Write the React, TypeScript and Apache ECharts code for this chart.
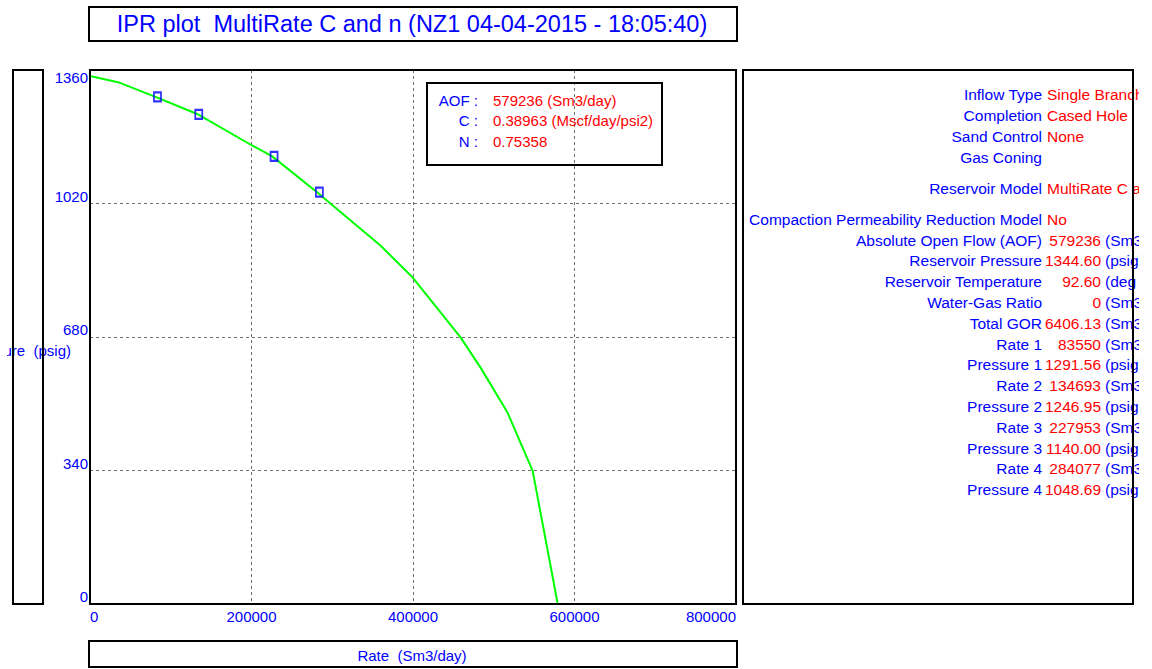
import React, { useEffect, useRef } from 'react';
import * as echarts from 'echarts';

// Canvas size and palette
const W = 1152;
const H = 669;
const BLUE = '#0000ff';
const RED = '#ff0000';
const GREEN = '#00ff00';
const FONT = '"Liberation Sans", Arial, Helvetica, sans-serif';

// Titles
const titleText = 'IPR plot  MultiRate C and n (NZ1 04-04-2015 - 18:05:40)';
const xAxisName = 'Rate  (Sm3/day)';
const yAxisName = 'Pressure  (psig)';

// Axis ranges
const rateAxisRange = [0, 800000];
const rateAxisStep = 200000;
const pressureAxisRange = [0, 1360];
const pressureAxisStep = 340;

// Inflow performance curve (rate Sm3/day, flowing pressure psig)
const aofRate = 579236;
const iprRate = [0, 34700, 81900, 132700, 199700, 225700, 282800, 297700, 359700, 399400, 458900, 483700, 517200, 548200, aofRate];
const iprPressure = [1344.6, 1329, 1291, 1248, 1169, 1140, 1046, 1020, 913, 832, 679, 602, 487, 339, 0];

// Multi-rate test points
const testRate = [83550, 134693, 227953, 284077];
const testPressure = [1291.56, 1246.95, 1140.0, 1048.69];

// Fit results box
const fitLabels = ['AOF :', 'C :', 'N :'];
const fitValues = ['579236 (Sm3/day)', '0.38963 (Mscf/day/psi2)', '0.75358'];

// Side panel: model description
const infoLabels = ['Inflow Type', 'Completion', 'Sand Control', 'Gas Coning', 'Reservoir Model', 'Compaction Permeability Reduction Model'];
const infoValues = ['Single Branch', 'Cased Hole', 'None', '', 'MultiRate C and n', 'No'];

// Side panel: numeric summary
const summaryLabels = ['Absolute Open Flow (AOF)', 'Reservoir Pressure', 'Reservoir Temperature', 'Water-Gas Ratio', 'Total GOR', 'Rate 1', 'Pressure 1', 'Rate 2', 'Pressure 2', 'Rate 3', 'Pressure 3', 'Rate 4', 'Pressure 4'];
const summaryValues = ['579236', '1344.60', '92.60', '0', '6406.13', '83550', '1291.56', '134693', '1246.95', '227953', '1140.00', '284077', '1048.69'];
const summaryUnits = ['(Sm3/day)', '(psig)', '(deg C)', '(Sm3/Sm3)', '(Sm3/Sm3)', '(Sm3/day)', '(psig)', '(Sm3/day)', '(psig)', '(Sm3/day)', '(psig)', '(Sm3/day)', '(psig)'];

// Plot frame
const PLOT_L = 90;
const PLOT_R = 736;
const PLOT_T = 70;
const PLOT_B = 604;

function txt(text: string, x: number, y: number, opts: any = {}) {
  return {
    type: 'text',
    x,
    y,
    z: opts.z ?? 50,
    style: {
      text,
      fill: opts.color ?? BLUE,
      font: `${opts.size ?? 15}px ${FONT}`,
      align: opts.align ?? 'left',
      verticalAlign: 'middle',
    },
  };
}

function box(x: number, y: number, w: number, h: number, z = 60) {
  return {
    type: 'rect',
    z,
    shape: { x, y, width: w, height: h },
    style: { fill: 'none', stroke: '#000', lineWidth: 2 },
  };
}

function cover(x: number, y: number, w: number, h: number) {
  return {
    type: 'rect',
    z: 55,
    shape: { x, y, width: w, height: h },
    style: { fill: '#fff', stroke: 'none' },
  };
}

const plainNumber = (v: number) => String(v);

export default function App() {
  const ref = useRef<HTMLDivElement>(null);

  useEffect(() => {
    if (!ref.current) return;
    const chart = echarts.init(ref.current, undefined, { renderer: 'svg' });

    const graphics: any[] = [];

    // Title box
    graphics.push(box(89, 7, 648, 34));
    graphics.push(txt(titleText, 412, 24, { size: 23.5, align: 'center' }));

    // Left axis-name box; the name runs past the page edge and is cut there
    graphics.push(txt(yAxisName, 71, 350, { align: 'right' }));
    graphics.push(cover(0, 60, 7, 560));
    graphics.push(box(13, 70, 30, 534));

    // Bottom axis-name box
    graphics.push(box(89, 641, 648, 26));
    graphics.push(txt(xAxisName, 412, 655, { align: 'center' }));

    // Fit results box (transparent, grid shows through)
    graphics.push(box(427, 83, 235, 82));
    const fitY = [100, 120, 141];
    fitLabels.forEach((l, i) => {
      graphics.push(txt(l, 478, fitY[i], { align: 'right' }));
      graphics.push(txt(fitValues[i], 493, fitY[i], { color: RED }));
    });

    // Side panel
    const infoY = [94, 115, 136, 157, 188, 219];
    infoLabels.forEach((l, i) => {
      graphics.push(txt(l, 1042, infoY[i], { align: 'right', size: 15.5 }));
      if (infoValues[i]) graphics.push(txt(infoValues[i], 1047, infoY[i], { color: RED, size: 15.5 }));
    });
    summaryLabels.forEach((l, i) => {
      const y = 240 + i * 20.8;
      graphics.push(txt(l, 1042, y, { align: 'right', size: 15.5 }));
      graphics.push(txt(summaryValues[i], 1101, y, { color: RED, align: 'right', size: 15.5 }));
      graphics.push(txt(summaryUnits[i], 1105, y, { size: 15.5 }));
    });
    graphics.push(cover(1139, 60, 13, 560));
    graphics.push(box(743, 70, 390, 534));

    chart.setOption({
      animation: false,
      backgroundColor: '#fff',
      textStyle: { fontFamily: FONT },
      grid: {
        left: PLOT_L,
        right: W - PLOT_R,
        top: PLOT_T,
        bottom: H - PLOT_B,
        show: true,
        borderColor: '#000',
        borderWidth: 2,
        backgroundColor: 'transparent',
        z: 10,
      },
      xAxis: {
        type: 'value',
        min: rateAxisRange[0],
        max: rateAxisRange[1],
        interval: rateAxisStep,
        axisLine: { show: false },
        axisTick: { show: false },
        splitLine: { show: true, lineStyle: { color: '#707070', type: [3, 3], width: 1 } },
        axisLabel: {
          color: BLUE,
          fontSize: 15,
          fontFamily: FONT,
          margin: 5,
          formatter: plainNumber,
          alignMinLabel: 'left',
          alignMaxLabel: 'right',
        },
      },
      yAxis: {
        type: 'value',
        min: pressureAxisRange[0],
        max: pressureAxisRange[1],
        interval: pressureAxisStep,
        axisLine: { show: false },
        axisTick: { show: false },
        splitLine: { show: true, lineStyle: { color: '#707070', type: [3, 3], width: 1 } },
        axisLabel: {
          color: BLUE,
          fontSize: 15,
          fontFamily: FONT,
          margin: 2,
          formatter: plainNumber,
          verticalAlign: 'bottom',
          verticalAlignMaxLabel: 'top',
        },
      },
      series: [
        {
          type: 'line',
          data: iprRate.map((r, i) => [r, iprPressure[i]]),
          symbol: 'none',
          lineStyle: { color: GREEN, width: 2 },
          z: 3,
        },
        {
          type: 'scatter',
          data: testRate.map((r, i) => [r, testPressure[i]]),
          symbol: 'rect',
          symbolSize: [7, 9],
          itemStyle: { color: 'rgba(255,255,255,0)', borderColor: BLUE, borderWidth: 2 },
          z: 4,
        },
      ],
      graphic: { elements: graphics },
    });

    return () => chart.dispose();
  }, []);

  return (
    <div
      ref={ref}
      style={{ position: 'absolute', left: 0, top: 0, width: W, height: H, background: '#fff' }}
    />
  );
}
